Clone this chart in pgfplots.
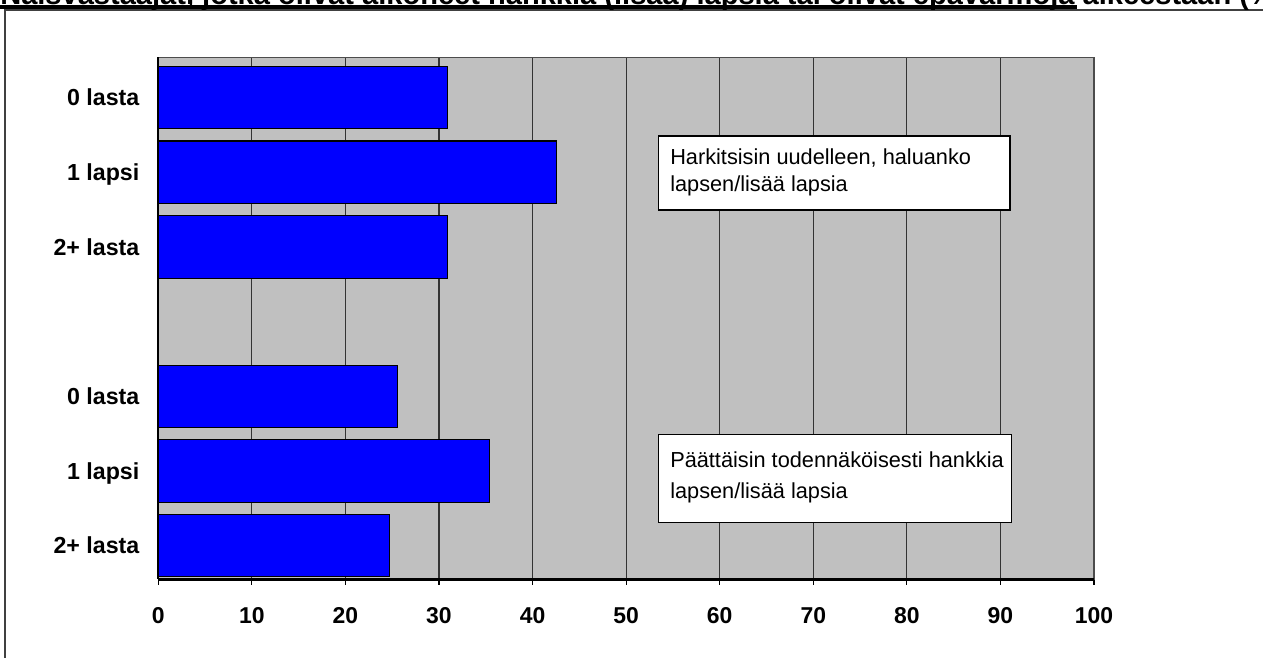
\documentclass[border=0pt]{standalone}
\usepackage{pgfplots}
\pgfplotsset{compat=1.18}
\usepackage{fontspec}
\setmainfont{Liberation Sans}
\definecolor{plotgray}{RGB}{192,192,192}
\definecolor{barblue}{RGB}{0,0,255}
\begin{document}
\begin{tikzpicture}
\useasboundingbox (0,0) rectangle (947.25pt,492.75pt);
% outer frame, only left and top edges are visible in the picture
\draw[black!75, line width=1.2pt] (3.75pt,-10pt) -- (3.75pt,485.4pt) -- (960pt,485.4pt);
\begin{axis}[
  at={(118.7pt,58.3pt)}, anchor=south west,
  scale only axis, width=701.8pt, height=391.5pt,
  xmin=0, xmax=100, xtick={0,10,...,100},
  ymin=-0.54, ymax=6.45, y dir=reverse,
  ytick={0,1,2,4,5,6},
  yticklabels={0 lasta,1 lapsi,2+ lasta,0 lasta,1 lapsi,2+ lasta},
  xmajorgrids, major grid style={black!80, line width=0.8pt},
  axis background/.style={fill=plotgray},
  axis line style={draw=black!70, line width=0.8pt},
  xtick pos=bottom, tick align=outside, major tick length=4pt,
  xtick style={black, line width=0.8pt},
  ytick style={draw=none},
  /pgf/number format/assume math mode=true,
  xticklabel style={font=\bfseries\fontsize{17.2}{20}\selectfont, anchor=center, yshift=-23pt, inner sep=0pt},
  yticklabel style={font=\bfseries\fontsize{17.4}{20}\selectfont, anchor=east, inner sep=0pt, xshift=-10pt, text height=12.3pt, text depth=0pt},
]
\addplot[xbar, bar width=0.837, fill=barblue, draw=black, line width=0.8pt]
  coordinates {(30.9,0) (42.6,1) (30.9,2) (25.6,4) (35.4,5) (24.7,6)};
\end{axis}
% heavier left and bottom axis lines
\draw[black, line width=1.5pt] (118.7pt,449.8pt) -- (118.7pt,58.3pt);
\draw[black, line width=1.9pt] (118.7pt,58.3pt) -- (820.5pt,58.3pt);
% text boxes
\draw[black, line width=1pt, fill=white] (493.7pt,335.25pt) rectangle (757.5pt,390.75pt);
\node[anchor=base west, inner sep=0pt, font=\fontsize{16.3}{19}\selectfont] at (502.5pt,369pt) {Harkitsisin uudelleen, haluanko};
\node[anchor=base west, inner sep=0pt, font=\fontsize{16.3}{19}\selectfont] at (502.5pt,349pt) {lapsen/lisää lapsia};
\draw[black, line width=1pt, fill=white] (494pt,100.95pt) rectangle (758.5pt,166.65pt);
\node[anchor=base west, inner sep=0pt, font=\fontsize{16.3}{19}\selectfont] at (502.5pt,142pt) {Päättäisin todennäköisesti hankkia};
\node[anchor=base west, inner sep=0pt, font=\fontsize{16.3}{19}\selectfont] at (502.5pt,118.5pt) {lapsen/lisää lapsia};
% title, cut off by the top edge as in the original
\fill[black] (0pt,486pt) rectangle (807.75pt,488.8pt);
\node[anchor=base west, inner sep=0pt, font=\bfseries\fontsize{21.8}{26}\selectfont] at (0pt,489pt) {Naisvastaajat, jotka olivat aikoneet hankkia (lisää) lapsia tai olivat epävarmoja aikeestaan (\%)};
\end{tikzpicture}
\end{document}
